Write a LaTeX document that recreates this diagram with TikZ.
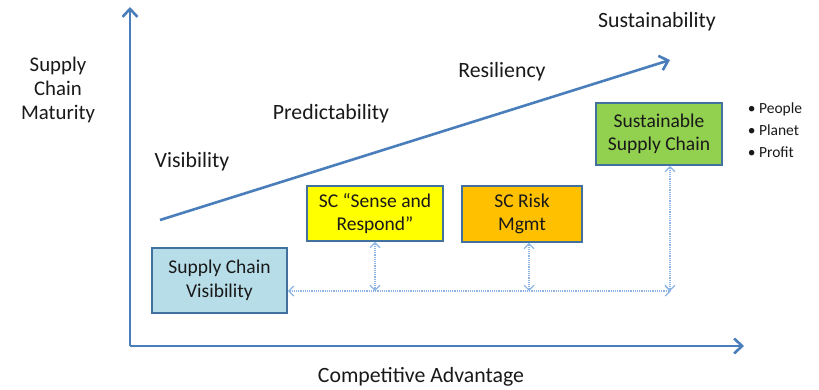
\documentclass[tikz,border=0pt]{standalone}
\usepackage{fontspec}
\setmainfont{Carlito}
\usetikzlibrary{arrows.meta}
\definecolor{axisblue}{HTML}{4A7EBB}
\definecolor{boxline}{HTML}{41719C}
\definecolor{linkblue}{HTML}{8EB4E3}
\definecolor{scvfill}{HTML}{B7DEE8}
\definecolor{sensefill}{HTML}{FFFF00}
\definecolor{riskfill}{HTML}{FFC000}
\definecolor{greenfill}{HTML}{92D050}
\tikzset{
  axis/.style={draw=axisblue, line width=2.6pt, -{Straight Barb[length=8pt,width=15pt,line width=2.6pt]}},
  stage/.style={font=\fontsize{21.8}{24}\selectfont, text=black!90, align=center},
  phase/.style={draw=boxline, line width=1.8pt, font=\fontsize{19.5}{23.5}\selectfont,
      text=black!90, align=center, inner sep=0pt},
  link/.style={draw=linkblue, line width=1.2pt, densely dotted,
      {Straight Barb[length=5pt,width=10pt]}-{Straight Barb[length=5pt,width=10pt]}}
}
\begin{document}
\begin{tikzpicture}[x=1pt,y=-1pt]
\useasboundingbox (0,0) rectangle (819,389);
% axes
\coordinate (origin) at (130,346);
\coordinate (ytop) at (130,7);
\coordinate (xend) at (744,346);
\draw[axis] (origin) -- (ytop);
\draw[axis] (origin) -- (xend);
\node[stage, font=\fontsize{20.8}{24}\selectfont] (ylabel) at (58,90) {Supply\\Chain\\Maturity};
\node[stage] (xlabel) at (421,377) {Competitive Advantage};
% maturity trend
\coordinate (tstart) at (160,220);
\coordinate (tend) at (670,60);
\draw[axis] (tstart) -- (tend);
\node[stage] (vis) at (192,162) {Visibility};
\node[stage] (pred) at (331,114) {Predictability};
\node[stage] (res) at (502,72) {Resiliency};
\node[stage] (sust) at (657,22) {Sustainability};
% phases
\node[phase, fill=scvfill, minimum width=135pt, minimum height=65pt] (scv) at (219.5,280.5) {Supply Chain\\Visibility};
\node[phase, fill=sensefill, minimum width=136pt, minimum height=55pt] (sense) at (375,213.5) {SC “Sense and\\Respond”};
\node[phase, fill=riskfill, minimum width=120pt, minimum height=56pt] (risk) at (522,214) {SC Risk\\Mgmt};
\node[phase, fill=greenfill, minimum width=126pt, minimum height=62pt] (green) at (659,134) {Sustainable\\Supply Chain};
\node[stage, font=\fontsize{15.5}{22}\selectfont, align=left] (tbl) at (775,130) {• People\\• Planet\\• Profit};
% links
\coordinate (hr) at (671,291);
\draw[link] (scv.east |- hr) -- (hr);
\draw[link] (sense.south) -- (sense.south |- hr);
\draw[link] ([xshift=7pt]risk.south) -- ([xshift=7pt]risk.south |- hr);
\draw[link] ([xshift=11pt]green.south) -- ([xshift=11pt]green.south |- hr);
\end{tikzpicture}
\end{document}
